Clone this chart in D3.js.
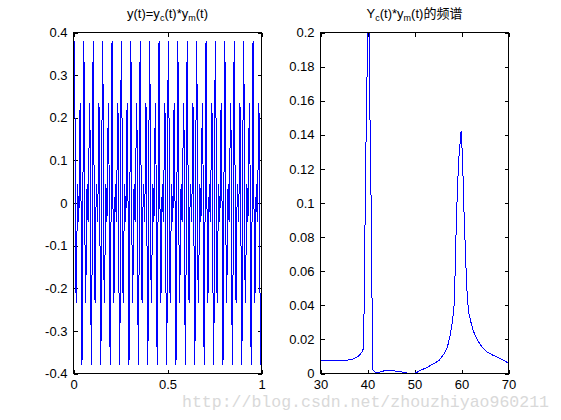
<!DOCTYPE html>
<html><head><meta charset="utf-8">
<script src="https://cdn.jsdelivr.net/npm/d3@7/dist/d3.min.js"></script>
<style>
body{margin:0;background:#fff}
svg{display:block}
text{font-family:"Liberation Sans",Arial,"Noto Sans CJK SC",sans-serif;fill:#000}
</style>
</head><body>
<svg id="chart" width="561" height="420"></svg>
<script>
// ---- data ----
const sampleStep = 0.0025; // seconds between signal samples
const signalValues = [
0,0.279,0.380,0.252,0,-0.200,-0.235,-0.128,0,0.044,0,-0.044,0,0.128,0.235,0.200,0,-0.252,-0.380,-0.279,
0,0.279,0.380,0.252,0,-0.200,-0.235,-0.128,0,0.044,0,-0.044,0,0.128,0.235,0.200,0,-0.252,-0.380,-0.279,
0,0.279,0.380,0.252,0,-0.200,-0.235,-0.128,0,0.044,0,-0.044,0,0.128,0.235,0.200,0,-0.252,-0.380,-0.279,
0,0.279,0.380,0.252,0,-0.200,-0.235,-0.128,0,0.044,0,-0.044,0,0.128,0.235,0.200,0,-0.252,-0.380,-0.279,
0,0.279,0.380,0.252,0,-0.200,-0.235,-0.128,0,0.044,0,-0.044,0,0.128,0.235,0.200,0,-0.252,-0.380,-0.279,
0,0.279,0.380,0.252,0,-0.200,-0.235,-0.128,0,0.044,0,-0.044,0,0.128,0.235,0.200,0,-0.252,-0.380,-0.279,
0,0.279,0.380,0.252,0,-0.200,-0.235,-0.128,0,0.044,0,-0.044,0,0.128,0.235,0.200,0,-0.252,-0.380,-0.279,
0,0.279,0.380,0.252,0,-0.200,-0.235,-0.128,0,0.044,0,-0.044,0,0.128,0.235,0.200,0,-0.252,-0.380,-0.279,
0,0.279,0.380,0.252,0,-0.200,-0.235,-0.128,0,0.044,0,-0.044,0,0.128,0.235,0.200,0,-0.252,-0.380,-0.279,
0,0.279,0.380,0.252,0,-0.200,-0.235,-0.128,0,0.044,0,-0.044,0,0.128,0.235,0.200,0,-0.252,-0.380,-0.279,
0,0.279,0.380,0.252,0,-0.200,-0.235,-0.128,0,0.044,0,-0.044,0,0.128,0.235,0.200,0,-0.252,-0.380,-0.279,
0,0.279,0.380,0.252,0,-0.200,-0.235,-0.128,0,0.044,0,-0.044,0,0.128,0.235,0.200,0,-0.252,-0.380,-0.279,
0,0.279,0.380,0.252,0,-0.200,-0.235,-0.128,0,0.044,0,-0.044,0,0.128,0.235,0.200,0,-0.252,-0.380,-0.279,
0,0.279,0.380,0.252,0,-0.200,-0.235,-0.128,0,0.044,0,-0.044,0,0.128,0.235,0.200,0,-0.252,-0.380,-0.279,
0,0.279,0.380,0.252,0,-0.200,-0.235,-0.128,0,0.044,0,-0.044,0,0.128,0.235,0.200,0,-0.252,-0.380,-0.279,
0,0.279,0.380,0.252,0,-0.200,-0.235,-0.128,0,0.044,0,-0.044,0,0.128,0.235,0.200,0,-0.252,-0.380,-0.279,
0,0.279,0.380,0.252,0,-0.200,-0.235,-0.128,0,0.044,0,-0.044,0,0.128,0.235,0.200,0,-0.252,-0.380,-0.279,
0,0.279,0.380,0.252,0,-0.200,-0.235,-0.128,0,0.044,0,-0.044,0,0.128,0.235,0.200,0,-0.252,-0.380,-0.279,
0,0.279,0.380,0.252,0,-0.200,-0.235,-0.128,0,0.044,0,-0.044,0,0.128,0.235,0.200,0,-0.252,-0.380,-0.279,
0,0.279,0.380,0.252,0,-0.200,-0.235,-0.128,0,0.044,0,-0.044,0,0.128,0.235,0.200,0,-0.252,-0.380,-0.279,
0];
const timeTicks = [0, 0.5, 1];
const timeTickLabels = ["0", "0.5", "1"];
const ampTicks = [-0.4, -0.3, -0.2, -0.1, 0, 0.1, 0.2, 0.3, 0.4];
const ampTickLabels = ["-0.4", "-0.3", "-0.2", "-0.1", "0", "0.1", "0.2", "0.3", "0.4"];

const freqs = [30,32,34,35.5,36,37,37.7,38.4,38.8,39.1,39.25,39.4,39.6,39.8,39.95,40.05,40.2,40.35,40.45,40.63,
  40.84,41.0,41.15,41.5,42.2,43,43.6,45.4,47.1,48.6,50,50.3,51.4,52.8,54.2,55.2,56.3,57,57.5,58.1,
  58.4,58.6,58.8,59.1,59.4,59.9,60.2,60.5,60.9,61.26,61.6,62.1,62.5,63.4,64.4,65.5,66.5,68.3,69.7,70];
const mags = [0.0075,0.0075,0.0075,0.0076,0.008,0.0086,0.0094,0.011,0.0125,0.0145,0.033,0.069,0.118,0.16,0.181,0.174,0.5,0.174,0.16,0.135,
  0.081,0.032,0.002,0.001,0.0004,0.0012,0.0016,0.0016,0.001,0.0002,0,0.0004,0.002,0.0037,0.006,0.0076,0.0116,0.0155,0.0213,0.031,
  0.039,0.0547,0.078,0.1056,0.125,0.142,0.128,0.0977,0.066,0.043,0.035,0.029,0.025,0.0194,0.0155,0.0125,0.011,0.0086,0.0066,0.006];
const freqTicks = [30, 40, 50, 60, 70];
const freqTickLabels = ["30", "40", "50", "60", "70"];
const magTicks = [0, 0.02, 0.04, 0.06, 0.08, 0.1, 0.12, 0.14, 0.16, 0.18, 0.2];
const magTickLabels = ["0", "0.02", "0.04", "0.06", "0.08", "0.1", "0.12", "0.14", "0.16", "0.18", "0.2"];

// ---- drawing ----
const svg = d3.select("#chart");
const plotTop = 32.5, plotBottom = 373.5;
const fontSize = 13;

function panel(opts) {
  const {x0, x1, xDomain, yDomain, xTicks, xLabels, yTicks, yLabels, id} = opts;
  const xs = d3.scaleLinear().domain(xDomain).range([x0, x1]);
  const ys = d3.scaleLinear().domain(yDomain).range([plotBottom, plotTop]);
  const g = svg.append("g");
  svg.append("clipPath").attr("id", id).append("rect")
    .attr("x", x0).attr("y", plotTop).attr("width", x1 - x0).attr("height", plotBottom - plotTop);

  const fmt = (labels, ticks) => (d) => labels[ticks.indexOf(d)];
  const styleAxis = sel => {
    sel.select(".domain").remove();
    sel.selectAll("line").attr("stroke", "#000").attr("shape-rendering", "crispEdges");
    sel.selectAll("text").style("font-size", fontSize + "px").attr("fill", "#000");
  };
  g.append("g").attr("transform", `translate(0,${plotBottom})`)
    .call(d3.axisBottom(xs).tickValues(xTicks).tickFormat(fmt(xLabels, xTicks)).tickSize(-4).tickPadding(6))
    .call(styleAxis);
  g.append("g").attr("transform", `translate(0,${plotTop})`)
    .call(d3.axisTop(xs).tickValues(xTicks).tickFormat("").tickSize(-4))
    .call(styleAxis);
  g.append("g").attr("transform", `translate(${x0},0)`)
    .call(d3.axisLeft(ys).tickValues(yTicks).tickFormat(fmt(yLabels, yTicks)).tickSize(-4).tickPadding(6))
    .call(styleAxis);
  g.append("g").attr("transform", `translate(${x1},0)`)
    .call(d3.axisRight(ys).tickValues(yTicks).tickFormat("").tickSize(-4))
    .call(styleAxis);
  g.selectAll("text").attr("font-family", '"Liberation Sans", Arial, sans-serif');
  return {xs, ys, g};
}

// Left panel: time signal
const L = panel({id: "clipL", x0: 73.5, x1: 261.5, xDomain: [0, 1], yDomain: [-0.4, 0.4],
  xTicks: timeTicks, xLabels: timeTickLabels, yTicks: ampTicks, yLabels: ampTickLabels});
const lineL = d3.line().x((d, i) => L.xs(i * sampleStep)).y(d => L.ys(d));
svg.append("path").datum(signalValues).attr("d", lineL)
  .attr("fill", "none").attr("stroke", "#0000ff").attr("stroke-width", 1)
  .attr("shape-rendering", "crispEdges")
  .attr("clip-path", "url(#clipL)");
svg.append("rect").attr("x", 73.5).attr("y", plotTop).attr("width", 188).attr("height", plotBottom - plotTop)
  .attr("fill", "none").attr("stroke", "#000").attr("shape-rendering", "crispEdges");

// Right panel: spectrum
const R = panel({id: "clipR", x0: 320.5, x1: 508.5, xDomain: [30, 70], yDomain: [0, 0.2],
  xTicks: freqTicks, xLabels: freqTickLabels, yTicks: magTicks, yLabels: magTickLabels});
const lineR = d3.line().x((d, i) => R.xs(freqs[i])).y(d => R.ys(d));
svg.append("path").datum(mags).attr("d", lineR)
  .attr("fill", "none").attr("stroke", "#0000ff").attr("stroke-width", 1)
  .attr("shape-rendering", "crispEdges")
  .attr("clip-path", "url(#clipR)");
svg.append("rect").attr("x", 320.5).attr("y", plotTop).attr("width", 188).attr("height", plotBottom - plotTop)
  .attr("fill", "none").attr("stroke", "#000").attr("shape-rendering", "crispEdges");

// Titles
function title(cx, parts) {
  const t = svg.append("text").attr("x", cx).attr("y", 18).attr("text-anchor", "middle")
    .style("font-size", fontSize + "px");
  parts.forEach(p => {
    if (p.sub) {
      t.append("tspan").attr("dy", 3).style("font-size", "9px").text(p.sub);
    } else {
      t.append("tspan").attr("dy", p.after ? -3 : 0).text(p.text);
    }
  });
}
title(167.5, [{text: "y(t)=y"}, {sub: "c"}, {text: "(t)*y", after: true}, {sub: "m"}, {text: "(t)", after: true}]);
title(414.5, [{text: "Y"}, {sub: "c"}, {text: "(t)*y", after: true}, {sub: "m"}, {text: "(t)的频谱", after: true}]);

// Watermark
svg.append("text").attr("x", 182).attr("y", 407)
  .attr("textLength", 367).attr("lengthAdjust", "spacingAndGlyphs")
  .style("font-family", '"Liberation Mono","DejaVu Sans Mono",monospace')
  .style("font-size", "17px").style("fill", "#d9d9d9")
  .text("http://blog.csdn.net/zhouzhiyao960211");
</script>
</body></html>
